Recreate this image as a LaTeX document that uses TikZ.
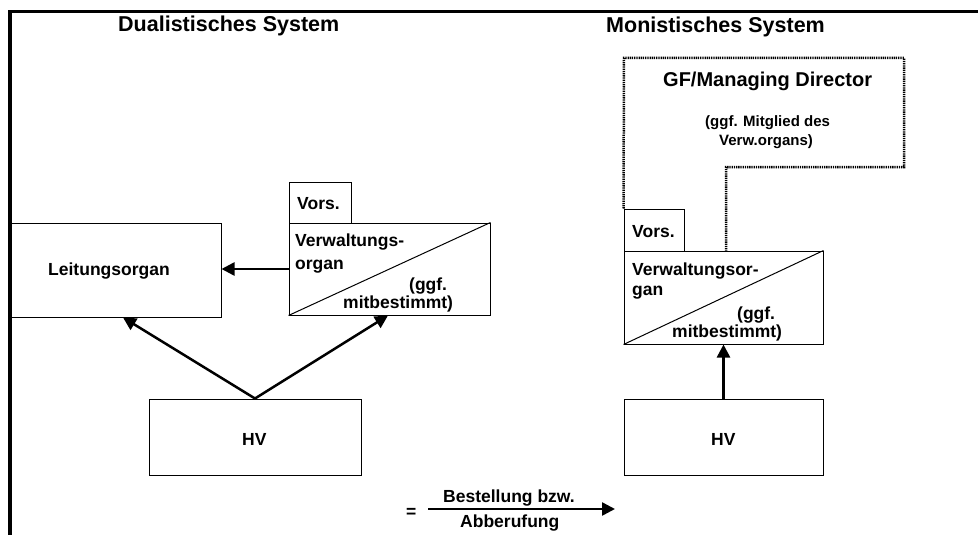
\documentclass[tikz,border=0pt]{standalone}
\usepackage{fontspec}
\setmainfont{Liberation Sans}
\usetikzlibrary{arrows.meta}
\tikzset{
  box/.style={draw, line width=1pt, inner sep=0pt, rectangle},
  txt/.style={inner sep=0pt, anchor=base west, font=\fontsize{17.5}{20}\selectfont\bfseries},
  ttl/.style={inner sep=0pt, anchor=base west, font=\fontsize{21.5}{25}\selectfont\bfseries},
  gftxt/.style={inner sep=0pt, anchor=base west, font=\fontsize{20}{24}\selectfont\bfseries},
  smalltxt/.style={inner sep=0pt, anchor=base west, font=\fontsize{15}{18}\selectfont\bfseries},
  conn/.style={line width=2.5pt, -{Triangle[length=13pt,width=13pt]}},
  dotline/.style={line width=2.5pt, dash pattern=on 1.3pt off 0.9pt},
}
\begin{document}
\begin{tikzpicture}[x=1pt,y=-1pt]
\useasboundingbox (0,0) rectangle (978,535);
% frame
\draw[line width=3.5pt] (978,11.5) -- (10,11.5) -- (10,535);
% titles
\node[ttl] (t1) at (118,32) {Dualistisches System};
\node[ttl] (t2) at (606,33) {Monistisches System};

% ---------- dualistic ----------
\node[box, minimum width=211pt, minimum height=94pt] (LO) at (115.5,270) {};
\node[txt] (LOt) at (48,275.5) {Leitungsorgan};

\node[box, minimum width=62pt, minimum height=41pt] (VSl) at (320,202.5) {};
\node[txt] (VSlt) at (297,209) {Vors.};
\node[box, minimum width=201pt, minimum height=92pt] (VOl) at (389.5,269) {};
\draw[line width=1pt] (VOl.south west) -- (VOl.north east);
\node[txt] (VOl1) at (295,246) {Verwaltungs-};
\node[txt] (VOl2) at (295,269) {organ};
\node[txt] (VOl3) at (409,290) {(ggf.};
\node[txt] (VOl4) at (343,308) {mitbestimmt)};

\node[box, minimum width=212pt, minimum height=76pt] (HVl) at (255,437) {};
\node[txt] (HVlt) at (242,445) {HV};

\coordinate (LOin) at ([xshift=7.5pt]LO.south);
\draw[conn] (VOl.west) -- (VOl.west -| LO.east);
\draw[conn] (HVl.north) -- (LOin);
\draw[conn] (HVl.north) -- ([xshift=-1.5pt]VOl.south);

% ---------- monistic ----------
\node[box, minimum width=60pt, minimum height=42pt] (VSr) at (654,230) {};
\node[txt] (VSrt) at (632,237) {Vors.};
\node[box, minimum width=199pt, minimum height=93pt] (VOr) at (723.5,297.5) {};
\draw[line width=1pt] (VOr.south west) -- (VOr.north east);
\node[txt] (VOr1) at (632,275) {Verwaltungsor-};
\node[txt] (VOr2) at (632,295) {gan};
\node[txt] (VOr3) at (737,319) {(ggf.};
\node[txt] (VOr4) at (672,337) {mitbestimmt)};

\coordinate (GF1) at (624,58);
\coordinate (GF2) at (904,58);
\coordinate (GF3) at (904,167);
\coordinate (GF4) at (726,167);
\coordinate (GF5) at (726,251);
\draw[dotline] (VSr.north west) -- (GF1) -- (GF2) -- (GF3) -- (GF4) -- (GF5);
\node[gftxt] (GFt) at (663,87) {GF/Managing Director};
\node[smalltxt] (GFs1) at (705,126) {(ggf. Mitglied des};
\node[smalltxt] (GFs2) at (719,146) {Verw.organs)};

\node[box, minimum width=199pt, minimum height=76pt] (HVr) at (723.5,437) {};
\node[txt] (HVrt) at (711,445) {HV};
\draw[conn] (HVr.north) -- (VOr.south);

% ---------- legend ----------
\node[txt] (eq) at (406,517) {=};
\coordinate (L1) at (428,509);
\coordinate (L2) at (615,509);
\draw[conn] (L1) -- (L2);
\node[txt] (Lt1) at (443,502) {Bestellung bzw.};
\node[txt] (Lt2) at (460,527) {Abberufung};
\end{tikzpicture}
\end{document}
